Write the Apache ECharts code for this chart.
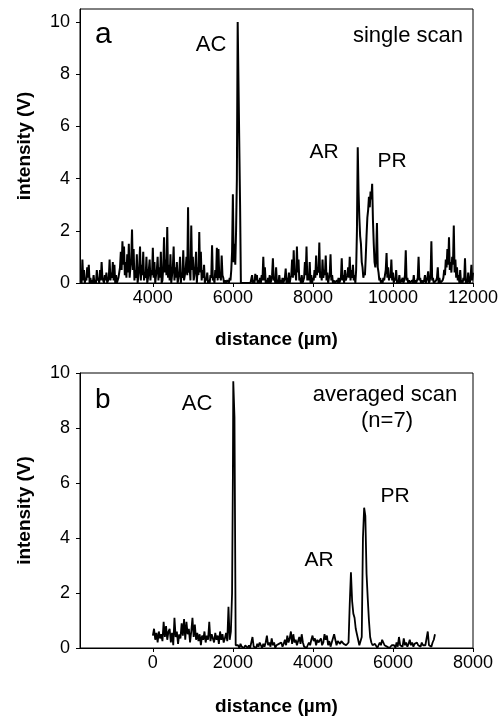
<!DOCTYPE html>
<html>
<head>
<meta charset="utf-8">
<script src="https://cdn.jsdelivr.net/npm/echarts@6/dist/echarts.min.js"></script>
<style>
html,body{margin:0;padding:0;background:#fff;}
#chart{width:502px;height:717px;}
</style>
</head>
<body>
<div id="chart"></div>
<script>
// (a) single scan: [distance (µm), intensity (V)]
var singleScan = [
[2200,0.1],[2220,0.0],[2240,0.9],[2260,0.1],[2280,0.5],[2300,0.0],[2320,0.2],[2340,0.1],[2360,0.6],[2380,0.2],
[2400,0.7],[2420,0.0],[2440,0.2],[2460,0.0],[2480,0.1],[2500,0.0],[2520,0.3],[2540,0.0],[2560,0.1],[2580,0.0],
[2600,0.5],[2620,0.1],[2640,0.2],[2660,0.0],[2680,0.5],[2700,0.1],[2720,0.8],[2740,0.2],[2760,0.1],[2780,0.0],
[2800,0.3],[2820,0.1],[2840,0.4],[2860,0.0],[2880,0.1],[2900,0.2],[2920,0.9],[2940,0.1],[2960,0.4],[2980,0.2],
[3000,0.8],[3020,0.1],[3040,0.7],[3060,0.0],[3080,0.3],[3100,0.0],[3120,0.1],[3140,0.2],[3160,0.4],[3180,0.6],
[3200,1.2],[3220,0.5],[3240,1.6],[3260,0.7],[3280,1.4],[3300,0.3],[3320,0.8],[3340,0.2],[3360,1.1],[3380,0.4],
[3400,1.5],[3420,0.2],[3440,0.6],[3460,0.9],[3480,2.05],[3500,0.5],[3520,1.3],[3540,0.1],[3560,0.5],[3580,0.2],
[3600,1.1],[3620,0.0],[3640,0.3],[3660,0.6],[3680,1.4],[3700,0.1],[3720,0.7],[3740,0.3],[3760,1.2],[3780,0.1],
[3800,0.4],[3820,0.2],[3840,1.0],[3860,0.0],[3880,0.2],[3900,0.5],[3920,0.9],[3940,0.1],[3960,0.5],[3980,0.3],
[4000,1.35],[4020,0.2],[4040,0.8],[4060,0.0],[4080,0.3],[4100,0.5],[4120,1.0],[4140,0.1],[4160,0.6],[4180,0.2],
[4200,1.2],[4220,0.0],[4240,0.1],[4260,0.6],[4280,1.75],[4300,0.4],[4320,0.9],[4340,0.3],[4360,2.15],[4380,0.2],
[4400,0.7],[4420,0.1],[4440,1.1],[4460,0.0],[4480,0.3],[4500,0.6],[4520,1.4],[4540,0.1],[4560,0.6],[4580,0.2],
[4600,0.8],[4620,0.0],[4640,0.2],[4660,0.4],[4680,1.0],[4700,0.0],[4720,0.4],[4740,0.2],[4760,1.25],[4780,0.1],
[4800,0.3],[4820,0.5],[4840,1.0],[4860,0.3],[4880,2.9],[4900,0.4],[4920,0.6],[4940,0.1],[4960,2.2],[4980,0.5],
[5000,1.0],[5020,0.1],[5040,0.3],[5060,0.6],[5080,1.2],[5100,0.0],[5120,0.6],[5140,0.3],[5160,1.95],[5180,0.4],
[5200,1.2],[5220,0.1],[5240,0.5],[5260,0.2],[5280,0.7],[5300,0.0],[5320,0.2],[5340,0.1],[5360,0.4],[5380,0.0],
[5400,0.1],[5420,0.0],[5440,0.3],[5460,0.2],[5480,1.45],[5500,0.1],[5520,0.2],[5540,0.0],[5560,0.5],[5580,0.2],
[5600,1.35],[5620,0.1],[5640,1.3],[5660,0.2],[5680,0.3],[5700,0.1],[5720,1.05],[5740,0.3],[5760,0.2],[5780,0.0],
[5800,0.1],[5820,0.0],[5840,0.0],[5860,0.1],[5880,0.1],[5900,0.0],[5920,0.2],[5940,0.1],[5960,0.5],[5980,1.2],
[6000,3.4],[6020,0.8],[6040,1.5],[6060,0.7],[6080,2.0],[6100,4.0],[6120,10.0],[6140,10.0],[6160,10.0],[6180,3.0],
[6200,0.0],[6220,0.0],[6240,0.0],[6260,0.0],[6280,0.0],[6300,0.0],[6320,0.0],[6340,0.0],[6360,0.0],[6380,0.0],
[6400,0.0],[6420,0.0],[6440,0.0],[6460,0.0],[6480,0.3],[6500,0.0],[6520,0.1],[6540,0.0],[6560,0.35],[6580,0.1],
[6600,0.3],[6620,0.0],[6640,0.1],[6660,0.0],[6680,0.2],[6700,0.0],[6720,0.3],[6740,0.1],[6760,1.0],[6780,0.1],
[6800,0.6],[6820,0.0],[6840,0.1],[6860,0.0],[6880,0.2],[6900,0.0],[6920,0.3],[6940,0.0],[6960,0.1],[6980,0.3],
[7000,0.95],[7020,0.1],[7040,0.2],[7060,0.0],[7080,0.6],[7100,0.0],[7120,0.1],[7140,0.0],[7160,0.3],[7180,0.0],
[7200,0.1],[7220,0.0],[7240,0.2],[7260,0.0],[7280,0.1],[7300,0.2],[7320,0.55],[7340,0.0],[7360,0.2],[7380,0.0],
[7400,0.4],[7420,0.0],[7440,0.2],[7460,0.3],[7480,0.9],[7500,0.2],[7520,1.25],[7540,0.3],[7560,0.5],[7580,0.1],
[7600,1.4],[7620,0.4],[7640,0.9],[7660,0.1],[7680,0.2],[7700,0.0],[7720,0.3],[7740,0.0],[7760,0.1],[7780,0.2],
[7800,0.8],[7820,0.3],[7840,1.4],[7860,0.1],[7880,0.3],[7900,0.1],[7920,0.8],[7940,0.0],[7960,0.3],[7980,0.0],
[8000,0.2],[8020,0.1],[8040,0.5],[8060,0.2],[8080,1.05],[8100,0.3],[8120,0.6],[8140,0.4],[8160,1.55],[8180,0.2],
[8200,0.4],[8220,0.1],[8240,0.9],[8260,0.2],[8280,0.5],[8300,0.3],[8320,1.05],[8340,0.1],[8360,0.4],[8380,0.0],
[8400,0.2],[8420,0.3],[8440,1.1],[8460,0.1],[8480,0.3],[8500,0.0],[8520,0.1],[8540,0.0],[8560,0.0],[8580,0.0],
[8600,0.1],[8620,0.0],[8640,0.2],[8660,0.0],[8680,0.1],[8700,0.2],[8720,0.95],[8740,0.1],[8760,0.3],[8780,0.0],
[8800,0.5],[8820,0.1],[8840,0.2],[8860,0.3],[8880,0.6],[8900,0.2],[8920,1.0],[8940,0.1],[8960,0.5],[8980,0.2],
[9000,0.7],[9020,0.1],[9040,0.3],[9060,0.0],[9080,0.5],[9100,2.0],[9120,5.2],[9140,3.5],[9160,2.5],[9180,1.8],
[9200,1.5],[9220,0.8],[9240,0.6],[9260,0.2],[9280,0.4],[9300,0.3],[9320,1.0],[9340,1.8],[9360,2.5],[9380,2.8],
[9400,3.3],[9420,2.9],[9440,3.5],[9460,3.2],[9480,3.8],[9500,2.4],[9520,1.5],[9540,0.8],[9560,0.6],[9580,1.0],
[9600,2.3],[9620,0.6],[9640,0.4],[9660,0.1],[9680,0.2],[9700,0.0],[9720,0.1],[9740,0.0],[9760,0.2],[9780,0.1],
[9800,0.3],[9820,0.5],[9840,1.15],[9860,0.2],[9880,0.6],[9900,0.1],[9920,0.3],[9940,0.2],[9960,0.9],[9980,0.1],
[10000,0.4],[10020,0.0],[10040,0.2],[10060,0.1],[10080,0.5],[10100,0.0],[10120,0.1],[10140,0.0],[10160,0.3],[10180,0.0],
[10200,0.0],[10220,0.1],[10240,0.2],[10260,0.0],[10280,0.1],[10300,0.3],[10320,1.25],[10340,0.1],[10360,0.2],[10380,0.0],
[10400,0.1],[10420,0.0],[10440,0.0],[10460,0.0],[10480,0.1],[10500,0.0],[10520,0.3],[10540,0.0],[10560,0.1],[10580,0.0],
[10600,0.0],[10620,0.2],[10640,1.0],[10660,0.1],[10680,0.2],[10700,0.0],[10720,0.1],[10740,0.0],[10760,0.0],[10780,0.1],
[10800,0.3],[10820,0.0],[10840,0.1],[10860,0.2],[10880,0.45],[10900,0.0],[10920,0.1],[10940,0.3],[10960,1.6],[10980,0.1],
[11000,0.2],[11020,0.0],[11040,0.0],[11060,0.0],[11080,0.1],[11100,0.2],[11120,0.6],[11140,0.0],[11160,0.2],[11180,0.0],
[11200,0.0],[11220,0.0],[11240,0.1],[11260,0.2],[11280,0.5],[11300,0.3],[11320,0.9],[11340,0.6],[11360,1.3],[11380,0.7],
[11400,1.75],[11420,0.5],[11440,0.8],[11460,0.4],[11480,1.0],[11500,0.7],[11520,2.2],[11540,0.4],[11560,0.9],[11580,0.2],
[11600,0.6],[11620,0.1],[11640,0.3],[11660,0.0],[11680,0.5],[11700,0.0],[11720,0.1],[11740,0.0],[11760,0.2],[11780,0.1],
[11800,0.95],[11820,0.0],[11840,0.1],[11860,0.0],[11880,0.4],[11900,0.1],[11920,0.0],[11940,0.2],[11960,0.7],[11980,0.1],
[12000,0.4]
];

// (b) averaged scan (n=7): [distance (µm), intensity (V)]
var averagedScan = [
[0,0.45],[30,0.7],[60,0.3],[90,0.55],[120,0.2],[150,0.6],[180,0.35],[210,0.5],[240,0.25],[270,0.95],
[300,0.4],[330,0.8],[360,0.3],[390,0.6],[420,0.7],[450,0.2],[480,0.55],[510,0.1],[540,1.1],[570,0.4],
[600,0.6],[630,0.15],[660,0.5],[690,0.35],[720,0.9],[750,0.45],[780,1.05],[810,0.3],[840,0.95],[870,0.5],
[900,0.7],[930,0.2],[960,0.6],[990,1.1],[1020,0.4],[1050,0.85],[1080,0.3],[1110,0.55],[1140,0.25],[1170,0.5],
[1200,0.1],[1230,0.45],[1260,0.3],[1290,0.6],[1320,0.2],[1350,0.45],[1380,0.3],[1410,0.95],[1440,0.25],[1470,0.5],
[1500,0.35],[1530,0.2],[1560,0.55],[1590,0.3],[1620,0.45],[1650,0.15],[1680,0.6],[1710,0.3],[1740,0.5],[1770,0.2],
[1800,0.35],[1830,0.55],[1860,0.25],[1890,1.5],[1920,0.3],[1950,0.6],[1980,2.0],[2000,6.2],[2010,9.7],[2040,8.4],
[2070,0.1],[2100,0.05],[2130,0.1],[2160,0.0],[2190,0.15],[2220,0.05],[2250,0.1],[2280,0.0],[2310,0.1],[2340,0.05],
[2370,0.0],[2400,0.1],[2430,0.0],[2460,0.05],[2490,0.4],[2520,0.05],[2550,0.1],[2580,0.0],[2610,0.15],[2640,0.05],
[2670,0.2],[2700,0.1],[2730,0.0],[2760,0.15],[2790,0.05],[2820,0.2],[2850,0.45],[2880,0.1],[2910,0.2],[2940,0.05],
[2970,0.35],[3000,0.1],[3030,0.2],[3060,0.0],[3090,0.1],[3120,0.05],[3150,0.15],[3180,0.1],[3210,0.2],[3240,0.05],
[3270,0.15],[3300,0.3],[3330,0.1],[3360,0.45],[3390,0.2],[3420,0.35],[3450,0.6],[3480,0.15],[3510,0.5],[3540,0.2],
[3570,0.3],[3600,0.1],[3630,0.25],[3660,0.4],[3690,0.15],[3720,0.5],[3750,0.2],[3780,0.05],[3810,0.1],[3840,0.0],
[3870,0.1],[3900,0.2],[3930,0.1],[3960,0.3],[3990,0.45],[4020,0.25],[4050,0.35],[4080,0.1],[4110,0.3],[4140,0.2],
[4170,0.15],[4200,0.35],[4230,0.1],[4260,0.2],[4290,0.5],[4320,0.3],[4350,0.45],[4380,0.1],[4410,0.25],[4440,0.05],
[4470,0.2],[4500,0.15],[4530,0.5],[4560,0.3],[4590,0.1],[4620,0.25],[4650,0.2],[4680,0.15],[4710,0.25],[4740,0.2],
[4770,0.15],[4800,0.2],[4830,0.1],[4860,0.05],[4890,0.2],[4920,1.6],[4950,2.75],[4980,1.7],[5010,1.25],[5040,1.1],
[5070,0.7],[5100,0.5],[5130,0.3],[5160,0.1],[5190,0.05],[5220,0.4],[5250,4.0],[5280,5.1],[5310,4.8],[5340,2.7],
[5370,1.8],[5400,1.0],[5430,0.4],[5460,0.2],[5490,0.1],[5520,0.05],[5550,0.15],[5580,0.1],[5610,0.0],[5640,0.1],
[5670,0.2],[5700,0.1],[5730,0.3],[5760,0.2],[5790,0.1],[5820,0.15],[5850,0.05],[5880,0.1],[5910,0.0],[5940,0.05],
[5970,0.1],[6000,0.05],[6030,0.1],[6060,0.0],[6090,0.2],[6120,0.05],[6150,0.4],[6180,0.1],[6210,0.15],[6240,0.05],
[6270,0.35],[6300,0.1],[6330,0.2],[6360,0.05],[6390,0.15],[6420,0.3],[6450,0.1],[6480,0.2],[6510,0.05],[6540,0.15],
[6570,0.1],[6600,0.2],[6630,0.1],[6660,0.15],[6690,0.05],[6720,0.2],[6750,0.1],[6780,0.15],[6810,0.1],[6840,0.05],
[6870,0.6],[6900,0.1],[6930,0.15],[6960,0.05],[6990,0.2],[7020,0.3],[7050,0.5]
];

var yTickValues = [0, 2, 4, 6, 8, 10];
var xTickValuesA = [4000, 6000, 8000, 10000, 12000];
var xTickValuesB = [0, 2000, 4000, 6000, 8000];
var xNameText = 'distance (\u00b5m)';
var yNameText = 'intensity (V)';

var FONT = '"Liberation Sans", Arial, sans-serif';
function plain(v) { return String(v); }

function xAxisCfg(gi, min, max, ticks, gap) {
  return {
    type: 'value', gridIndex: gi, min: min, max: max,
    axisLine: { show: true, onZero: false, lineStyle: { color: '#000', width: 1 } },
    axisTick: { show: true, customValues: ticks, length: 4, lineStyle: { color: '#000' } },
    axisLabel: { customValues: ticks, formatter: plain, color: '#000', fontSize: 18, margin: 6, fontFamily: FONT },
    splitLine: { show: false },
    name: xNameText, nameLocation: 'middle', nameGap: gap,
    nameTextStyle: { color: '#000', fontSize: 19, fontWeight: 'bold', fontFamily: FONT }
  };
}
function yAxisCfg(gi, max) {
  return {
    type: 'value', gridIndex: gi, min: 0, max: max,
    axisLine: { show: true, onZero: false, lineStyle: { color: '#000', width: 1 } },
    axisTick: { show: true, customValues: yTickValues, length: 4, lineStyle: { color: '#000' } },
    axisLabel: { customValues: yTickValues, formatter: plain, color: '#000', fontSize: 18, margin: 10, fontFamily: FONT },
    splitLine: { show: false },
    name: yNameText, nameLocation: 'middle', nameGap: 46, nameRotate: 90,
    nameTextStyle: { color: '#000', fontSize: 19, fontWeight: 'bold', fontFamily: FONT }
  };
}
function txt(x, y, s, size, align) {
  return { type: 'text', x: x, y: y, silent: true,
    style: { text: s, fill: '#000', font: size + 'px ' + FONT, textAlign: align || 'left', textVerticalAlign: 'middle' } };
}

var chart = echarts.init(document.getElementById('chart'), null, { renderer: 'canvas' });
chart.setOption({
  animation: false,
  backgroundColor: '#fff',
  grid: [
    { left: 80, right: 29, top: 9, height: 274, show: true, borderColor: '#000', borderWidth: 1, containLabel: false, outerBoundsMode: 'none' },
    { left: 80, right: 29, top: 373, height: 275, show: true, borderColor: '#000', borderWidth: 1, containLabel: false, outerBoundsMode: 'none' }
  ],
  xAxis: [ xAxisCfg(0, 2180, 12000, xTickValuesA, 47), xAxisCfg(1, -1820, 8000, xTickValuesB, 49) ],
  yAxis: [ yAxisCfg(0, 10.5), yAxisCfg(1, 10) ],
  series: [
    { type: 'line', xAxisIndex: 0, yAxisIndex: 0, data: singleScan, showSymbol: false, symbol: 'none',
      lineStyle: { color: '#000', width: 2 }, clip: true },
    { type: 'line', xAxisIndex: 1, yAxisIndex: 1, data: averagedScan, showSymbol: false, symbol: 'none',
      lineStyle: { color: '#000', width: 1.8 }, clip: true }
  ],
  graphic: [
    txt(95, 34.5, 'a', 30),
    txt(211, 45.3, 'AC', 22, 'center'),
    txt(463, 35.6, 'single scan', 22, 'right'),
    txt(324, 152.6, 'AR', 21, 'center'),
    txt(392, 161.6, 'PR', 21, 'center'),
    txt(95, 400, 'b', 28),
    txt(197, 403.7, 'AC', 22, 'center'),
    txt(385, 395, 'averaged scan', 22, 'center'),
    txt(387, 420.7, '(n=7)', 22, 'center'),
    txt(319, 560.6, 'AR', 21, 'center'),
    txt(395, 496.6, 'PR', 21, 'center')
  ]
});
</script>
</body>
</html>
